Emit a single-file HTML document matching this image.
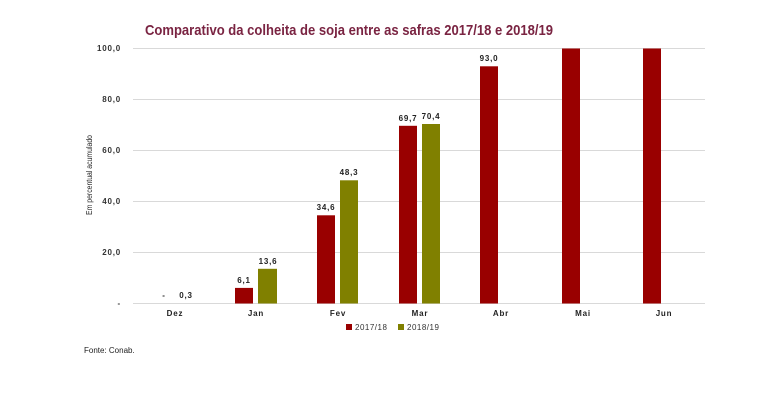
<!DOCTYPE html>
<html><head><meta charset="utf-8"><style>
html,body{margin:0;padding:0;background:#fff;}
svg{display:block;font-family:"Liberation Sans",Arial,sans-serif;}
</style></head><body>
<svg width="783" height="401" viewBox="0 0 783 401" xmlns="http://www.w3.org/2000/svg">
<text x="145" y="35" font-size="15" font-weight="bold" fill="#7a2442" textLength="408" lengthAdjust="spacingAndGlyphs">Comparativo da colheita de soja entre as safras 2017/18 e 2018/19</text>
<g stroke="#d9d9d9" stroke-width="1">
<line x1="133" x2="705" y1="48.5" y2="48.5"/>
<line x1="133" x2="705" y1="99.5" y2="99.5"/>
<line x1="133" x2="705" y1="150.5" y2="150.5"/>
<line x1="133" x2="705" y1="201.5" y2="201.5"/>
<line x1="133" x2="705" y1="252.5" y2="252.5"/>
<line x1="133" x2="705" y1="303.5" y2="303.5"/>
</g>
<g font-size="8" font-weight="bold" fill="#333" text-anchor="end" letter-spacing="0.8">
<text x="121" y="51">100,0</text>
<text x="121" y="102">80,0</text>
<text x="121" y="153">60,0</text>
<text x="121" y="204">40,0</text>
<text x="121" y="255">20,0</text>
<text x="121" y="306">-</text>
</g>
<text transform="translate(92,175) rotate(-90)" font-size="8" fill="#222" text-anchor="middle" textLength="80" lengthAdjust="spacingAndGlyphs">Em percentual acumulado</text>
<g>
<rect x="235" y="287.9" width="18" height="15.6" fill="#990000"/>
<rect x="258" y="268.8" width="19" height="34.7" fill="#808000"/>
<rect x="317" y="215.3" width="18" height="88.2" fill="#990000"/>
<rect x="340" y="180.3" width="18" height="123.2" fill="#808000"/>
<rect x="399" y="125.8" width="18" height="177.7" fill="#990000"/>
<rect x="422" y="124" width="18" height="179.5" fill="#808000"/>
<rect x="480" y="66.3" width="18" height="237.2" fill="#990000"/>
<rect x="562" y="48.5" width="18" height="255" fill="#990000"/>
<rect x="643" y="48.5" width="18" height="255" fill="#990000"/>
</g>
<g font-size="8" font-weight="bold" fill="#222" text-anchor="middle" letter-spacing="0.8">
<text x="164" y="298">-</text>
<text x="186" y="298">0,3</text>
<text x="244" y="283">6,1</text>
<text x="268" y="264">13,6</text>
<text x="326" y="210">34,6</text>
<text x="349" y="175">48,3</text>
<text x="408" y="121">69,7</text>
<text x="431" y="119">70,4</text>
<text x="489" y="61">93,0</text>
<text x="175" y="316">Dez</text>
<text x="256" y="316">Jan</text>
<text x="338" y="316">Fev</text>
<text x="420" y="316">Mar</text>
<text x="501" y="316">Abr</text>
<text x="583" y="316">Mai</text>
<text x="664" y="316">Jun</text>
</g>
<rect x="346" y="324" width="6" height="6" fill="#990000"/>
<text x="355" y="330" font-size="8" fill="#333" letter-spacing="0.5">2017/18</text>
<rect x="398" y="324" width="6" height="6" fill="#808000"/>
<text x="407" y="330" font-size="8" fill="#333" letter-spacing="0.5">2018/19</text>
<text x="84" y="353" font-size="8" fill="#222">Fonte: Conab.</text>
</svg>
</body></html>
